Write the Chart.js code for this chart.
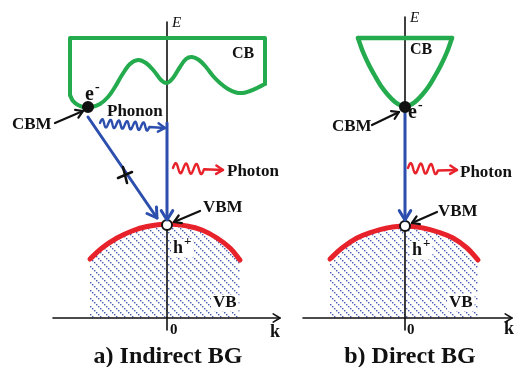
<!DOCTYPE html>
<html>
<head>
<meta charset="utf-8">
<script src="https://cdn.jsdelivr.net/npm/chart.js@4"></script>
<style>
  body { margin: 0; background: #fff; }
  #wrap { position: relative; width: 514px; height: 367px; }
  #wrap canvas { position: absolute; top: 0; }
</style>
</head>
<body>
<div id="wrap">
  <canvas id="indirect" width="290" height="367" style="left:0"></canvas>
  <canvas id="direct" width="224" height="367" style="left:290px"></canvas>
</div>
<script>
// E-k band sketches. k in arbitrary units (0 = zone centre), E measured up from the k axis.
const E_RANGE = [-4.9, 31.8];

// ---- a) indirect band gap ----
const indirectK = [-16.7, 12.3];
const cbIndirectFrame = [[-9.7, 22.3], [-9.7, 28.0], [9.8, 28.0], [9.8, 23.4]];
const cbIndirectValley = [[-9.7, 22.3], [-9.4, 21.7], [-8.9, 21.3], [-8.2, 21.05], [-7.5, 21.1], [-6.7, 21.4],
  [-5.9, 22.1], [-5.2, 23.1], [-4.5, 24.3], [-3.7, 25.4], [-2.9, 25.8], [-2.1, 25.5], [-1.3, 24.7],
  [-0.6, 23.8], [0, 23.5], [0.6, 24.0], [1.3, 25.1], [1.9, 25.9], [2.5, 26.1], [3.2, 25.8], [3.9, 25.1],
  [4.6, 24.2], [5.3, 23.5], [6.1, 22.9], [6.9, 22.55], [7.6, 22.5], [8.3, 22.7], [9.0, 23.0], [9.8, 23.4]];
const vbIndirect = [[-7.7, 5.9], [-6.5, 7.0], [-5.0, 8.0], [-3.5, 8.7], [-2.0, 9.15], [0, 9.4], [2.0, 9.2],
  [3.5, 8.8], [5.0, 8.0], [6.3, 7.0], [7.3, 5.8]];
const indirectCBM = [-7.9, 21.1];
const indirectVBM = [0, 9.3];
const indirectKAxis = [[-11.4, 0], [11.3, 0]];
const indirectEAxis = [[0, 29.6], [0, -1.2]];
const indirectVertical = [[0, 19.5], [0, 9.8]];
const indirectDiagonal = [[-7.9, 20.1], [-1.0, 10.0]];
const indirectCbmPointer = [[-11.2, 19.5], [-8.4, 20.7]];
const indirectVbmPointer = [[3.3, 10.7], [0.7, 9.6]];
const indirectPhonon = [[-6.7, 19.5], [-0.2, 19.0]];
const indirectPhoton = [[0.6, 15.0], [5.6, 14.8]];
const forbiddenMark = [-4.2, 14.3];

// ---- b) direct band gap ----
const directK = [-11.5, 10.9];
const cbDirectTop = [[-4.7, 28.0], [4.7, 28.0]];
const cbDirectBowl = [[-4.7, 28.0], [-4.2, 26.6], [-3.6, 25.3], [-3.0, 24.2], [-2.4, 23.2], [-1.7, 22.3],
  [-1.0, 21.6], [-0.4, 21.25], [0, 21.2], [0.4, 21.25], [1.0, 21.6], [1.7, 22.3], [2.4, 23.2], [3.0, 24.2],
  [3.6, 25.3], [4.2, 26.6], [4.7, 28.0]];
const vbDirect = [[-7.5, 5.9], [-6.3, 7.0], [-4.8, 8.0], [-3.3, 8.6], [-1.8, 9.0], [0, 9.2], [1.8, 9.0],
  [3.3, 8.6], [4.8, 8.0], [6.2, 7.0], [7.3, 5.8]];
const directCBM = [0, 21.1];
const directVBM = [0, 9.2];
const directKAxis = [[-10.2, 0], [10.7, 0]];
const directEAxis = [[0, 30.1], [0, -1.2]];
const directVertical = [[0, 20.6], [0, 9.8]];
const directCbmPointer = [[-3.3, 19.3], [-0.6, 20.6]];
const directVbmPointer = [[3.2, 10.6], [0.7, 9.5]];
const directPhoton = [[0.3, 15.0], [5.2, 14.8]];

const GREEN = '#24ab4e', BLUE = '#2c4fae', RED = '#e8222b', BLACK = '#111';
const SERIF = '"Liberation Serif", "DejaVu Serif", serif';

const pts = arr => arr.map(p => ({ x: p[0], y: p[1] }));

// diagonal dotted hatch used for the filled valence band
function hatchPattern() {
  const c = document.createElement('canvas');
  c.width = 8; c.height = 8;
  const g = c.getContext('2d');
  g.fillStyle = 'rgba(35,60,165,0.85)';
  for (let i = 0; i < 8; i += 2) g.fillRect(i, i, 1.4, 1.4);
  return g.createPattern(c, 'repeat');
}

function line(data, color, width, extra) {
  return Object.assign({
    data: pts(data), showLine: true, borderColor: color, borderWidth: width,
    pointRadius: 0, fill: false, tension: 0, borderCapStyle: 'round', borderJoinStyle: 'round'
  }, extra || {});
}

function dot(p, fillColor, order) {
  return {
    data: pts([p]), showLine: false, pointRadius: 5, pointBorderWidth: 2,
    pointBackgroundColor: fillColor, pointBorderColor: BLACK, order: order
  };
}

function head(ctx, x1, y1, x2, y2, size, color, lw) {
  const a = Math.atan2(y2 - y1, x2 - x1);
  ctx.save();
  ctx.strokeStyle = color; ctx.lineWidth = lw;
  ctx.lineCap = 'round'; ctx.lineJoin = 'round';
  ctx.beginPath();
  ctx.moveTo(x2 - size * Math.cos(a - 0.55), y2 - size * Math.sin(a - 0.55));
  ctx.lineTo(x2, y2);
  ctx.lineTo(x2 - size * Math.cos(a + 0.55), y2 - size * Math.sin(a + 0.55));
  ctx.stroke();
  ctx.restore();
}

function wave(ctx, p1, p2, w) {
  const dx = p2[0] - p1[0], dy = p2[1] - p1[1], len = Math.hypot(dx, dy);
  const ux = dx / len, uy = dy / len, nx = -uy, ny = ux;
  const wl = len * w.frac;
  ctx.save();
  ctx.strokeStyle = w.color; ctx.lineWidth = w.width;
  ctx.lineCap = 'round'; ctx.lineJoin = 'round';
  ctx.beginPath();
  for (let s = 0; s <= wl; s += 0.5) {
    const off = -w.amp * Math.sin(2 * Math.PI * w.cycles * s / wl);
    const px = p1[0] + ux * s + nx * off, py = p1[1] + uy * s + ny * off;
    if (s === 0) ctx.moveTo(px, py); else ctx.lineTo(px, py);
  }
  ctx.lineTo(p2[0], p2[1]);
  ctx.stroke();
  ctx.restore();
  head(ctx, p1[0], p1[1], p2[0], p2[1], w.head, w.color, w.width);
}

// annotations: arrow heads, photon/phonon squiggles, cross mark and labels
function notes(panel) {
  return {
    id: 'bandNotes',
    afterDatasetsDraw(chart) {
      const { ctx, scales: { x, y } } = chart;
      const P = p => [x.getPixelForValue(p[0]), y.getPixelForValue(p[1])];

      chart.data.datasets.forEach(ds => {
        if (!ds.head) return;
        const n = ds.data.length;
        const a = P([ds.data[n - 2].x, ds.data[n - 2].y]), b = P([ds.data[n - 1].x, ds.data[n - 1].y]);
        head(ctx, a[0], a[1], b[0], b[1], ds.head, ds.borderColor, ds.borderWidth);
      });

      (panel.waves || []).forEach(w => wave(ctx, P(w.path[0]), P(w.path[1]), w));

      if (panel.cross) {
        const c = P(panel.cross);
        ctx.save();
        ctx.strokeStyle = BLACK; ctx.lineWidth = 2.6; ctx.lineCap = 'round';
        ctx.beginPath();
        ctx.moveTo(c[0] - 7, c[1] + 3); ctx.lineTo(c[0] + 7, c[1] - 3);
        ctx.moveTo(c[0] - 2, c[1] - 8); ctx.lineTo(c[0] + 2, c[1] + 8);
        ctx.stroke();
        ctx.restore();
      }

      panel.labels.forEach(l => {
        const p = P(l.at);
        ctx.save();
        ctx.font = (l.italic ? 'italic ' : 'bold ') + l.size + 'px ' + SERIF;
        ctx.textBaseline = 'middle';
        ctx.textAlign = l.align || 'left';
        const w = ctx.measureText(l.t).width;
        let supW = 0;
        if (l.sup) {
          ctx.font = 'bold ' + Math.round(l.size * 0.7) + 'px ' + SERIF;
          supW = ctx.measureText(l.sup).width + 1;
          ctx.font = (l.italic ? 'italic ' : 'bold ') + l.size + 'px ' + SERIF;
        }
        if (l.clear) {
          ctx.fillStyle = '#fff';
          ctx.fillRect(p[0] - 2, p[1] - l.size * 0.5, w + supW + 4, l.size);
        }
        ctx.fillStyle = BLACK;
        ctx.fillText(l.t, p[0], p[1]);
        if (l.sup) {
          ctx.font = 'bold ' + Math.round(l.size * 0.7) + 'px ' + SERIF;
          ctx.fillText(l.sup, p[0] + w + 1, p[1] - l.size * 0.38);
        }
        ctx.restore();
      });
    }
  };
}

function panelChart(id, kRange, datasets, panel) {
  return new Chart(document.getElementById(id), {
    type: 'scatter',
    data: { datasets: datasets },
    options: {
      responsive: false,
      animation: false,
      events: [],
      layout: { padding: 0, autoPadding: false },
      plugins: { legend: { display: false }, tooltip: { enabled: false } },
      scales: {
        x: { type: 'linear', min: kRange[0], max: kRange[1], display: false },
        y: { type: 'linear', min: E_RANGE[0], max: E_RANGE[1], display: false }
      }
    },
    plugins: [notes(panel)]
  });
}

const hatch = hatchPattern();

panelChart('indirect', indirectK, [
  dot(indirectVBM, '#fff', 0),
  dot(indirectCBM, BLACK, 0),
  line(indirectVertical, BLUE, 3, { order: 1, head: 11 }),
  line(indirectDiagonal, BLUE, 3, { order: 1, head: 11 }),
  line(indirectCbmPointer, BLACK, 2.2, { order: 1, head: 8 }),
  line(indirectVbmPointer, BLACK, 2.2, { order: 1, head: 8 }),
  line(cbIndirectFrame, GREEN, 4, { order: 2 }),
  line(cbIndirectValley, GREEN, 4, { order: 2, tension: 0.35 }),
  line(indirectEAxis, BLACK, 1.6, { order: 3 }),
  line(indirectKAxis, BLACK, 1.6, { order: 3, head: 8 }),
  line(vbIndirect, RED, 5, { order: 4, tension: 0.4, fill: 'origin', backgroundColor: hatch })
], {
  waves: [
    { path: indirectPhonon, frac: 0.76, cycles: 6, amp: 4, color: BLUE, width: 2.4, head: 8 },
    { path: indirectPhoton, frac: 0.62, cycles: 3, amp: 5, color: RED, width: 2.4, head: 8 }
  ],
  cross: forbiddenMark,
  labels: [
    { t: 'E', at: [0.5, 29.5], size: 15, italic: true },
    { t: 'CB', at: [6.5, 26.4], size: 16 },
    { t: 'e', at: [-8.2, 22.3], size: 20, sup: '-' },
    { t: 'CBM', at: [-15.5, 19.3], size: 17 },
    { t: 'Phonon', at: [-6.0, 20.6], size: 17 },
    { t: 'Photon', at: [6.0, 14.6], size: 17 },
    { t: 'VBM', at: [3.6, 11.0], size: 17 },
    { t: 'h', at: [0.6, 7.0], size: 18, sup: '+', clear: true },
    { t: 'VB', at: [4.6, 1.5], size: 17, clear: true },
    { t: '0', at: [0.3, -1.2], size: 15 },
    { t: 'k', at: [10.3, -1.4], size: 18 },
    { t: 'a) Indirect BG', at: [0.1, -3.9], size: 24, align: 'center' }
  ]
});

panelChart('direct', directK, [
  dot(directVBM, '#fff', 0),
  dot(directCBM, BLACK, 0),
  line(directVertical, BLUE, 3, { order: 1, head: 11 }),
  line(directCbmPointer, BLACK, 2.2, { order: 1, head: 8 }),
  line(directVbmPointer, BLACK, 2.2, { order: 1, head: 8 }),
  line(cbDirectTop, GREEN, 4.5, { order: 2 }),
  line(cbDirectBowl, GREEN, 4.5, { order: 2, tension: 0.3 }),
  line(directEAxis, BLACK, 1.6, { order: 3 }),
  line(directKAxis, BLACK, 1.6, { order: 3, head: 8 }),
  line(vbDirect, RED, 5, { order: 4, tension: 0.4, fill: 'origin', backgroundColor: hatch })
], {
  waves: [
    { path: directPhoton, frac: 0.62, cycles: 3, amp: 5, color: RED, width: 2.4, head: 8 }
  ],
  labels: [
    { t: 'E', at: [0.5, 30.0], size: 15, italic: true },
    { t: 'CB', at: [0.5, 26.8], size: 16 },
    { t: 'e', at: [0.3, 20.5], size: 20, sup: '-' },
    { t: 'CBM', at: [-7.3, 19.1], size: 17 },
    { t: 'Photon', at: [5.5, 14.5], size: 17 },
    { t: 'VBM', at: [3.3, 10.6], size: 17 },
    { t: 'h', at: [0.7, 6.8], size: 18, sup: '+', clear: true },
    { t: 'VB', at: [4.4, 1.55], size: 17, clear: true },
    { t: '0', at: [0.2, -1.2], size: 15 },
    { t: 'k', at: [9.9, -1.1], size: 18 },
    { t: 'b) Direct BG', at: [0.5, -3.9], size: 24, align: 'center' }
  ]
});
</script>
</body>
</html>
